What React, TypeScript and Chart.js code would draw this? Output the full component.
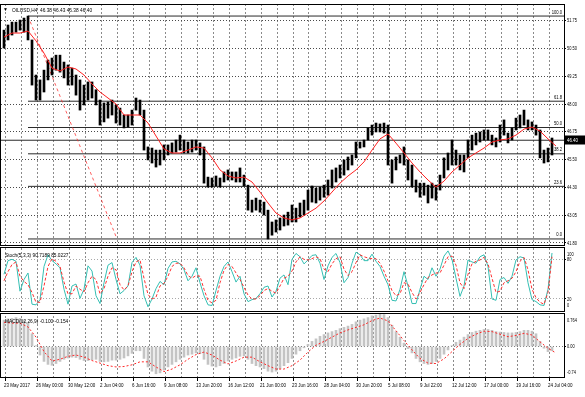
import React, { useEffect, useRef } from "react";
import { Chart, registerables } from "chart.js";

Chart.register(...registerables);

const FONT = "'Liberation Sans', Arial, sans-serif";

// ---- time axis (H4 bars; a label every 16 bars, grid every 8 bars) ----
const timeLabels = [
  "23 May 2017", "26 May 00:00", "30 May 12:00", "2 Jun 04:00", "6 Jun 16:00", "9 Jun 08:00",
  "13 Jun 20:00", "16 Jun 12:00", "21 Jun 00:00", "23 Jun 16:00", "28 Jun 04:00", "30 Jun 20:00",
  "5 Jul 08:00", "9 Jul 22:00", "12 Jul 12:00", "17 Jul 00:00", "19 Jul 16:00", "24 Jul 04:00",
];
const gridBars = Array.from({ length: 35 }, (_, k) => 1 + 8 * k);

// ---- price axis ----
const priceTickValues = [51.75, 50.506, 49.2625, 48.019, 46.775, 45.531, 44.2875, 43.044, 41.8];
const priceTickLabels = ["51.75", "50.50", "49.25", "48.00", "46.75", "45.50", "44.30", "43.05", "41.80"];

// ---- OILUSD H4 ranges (each entry = two H4 bars) ----
const highs = [
  51.33, 51.56, 51.69, 51.69, 51.78, 51.87, 51.96, 50.89, 49.32, 49.10,
  49.54, 49.99, 50.08, 50.21, 50.21, 49.90, 49.77, 49.63, 49.32, 49.10,
  48.87, 49.01, 49.01, 48.66, 48.20, 48.07, 48.11, 48.20, 47.98, 47.84,
  47.53, 47.53, 47.75, 48.29, 48.20, 47.75, 46.10, 46.05, 45.96, 45.96,
  46.19, 46.19, 46.28, 46.41, 46.63, 46.41, 46.32, 46.41, 46.41, 46.28,
  46.10, 44.75, 44.71, 44.80, 44.71, 44.98, 45.07, 44.98, 44.98, 45.16,
  44.84, 44.39, 43.72, 43.81, 43.72, 43.63, 43.27, 42.74, 42.83, 42.92,
  43.05, 43.18, 43.50, 43.36, 43.59, 43.72, 44.17, 44.35, 44.26, 44.30,
  44.39, 44.62, 45.07, 45.16, 45.29, 45.52, 45.65, 45.74, 46.32, 46.32,
  46.41, 46.95, 47.08, 47.17, 47.13, 47.17, 47.08, 45.52, 45.65, 45.74,
  46.10, 45.52, 45.29, 44.62, 44.48, 44.48, 44.39, 44.48, 44.39, 44.84,
  45.61, 45.83, 46.41, 45.96, 45.74, 45.74, 46.41, 46.63, 46.72, 46.77,
  46.86, 46.86, 46.63, 46.50, 47.08, 47.31, 46.72, 46.95, 47.39, 47.53,
  47.75, 47.31, 47.22, 47.08, 46.86, 45.96, 46.05, 46.50,
];
const lows = [
  50.53, 50.89, 51.11, 51.24, 51.33, 51.24, 50.89, 48.87, 48.20, 48.20,
  48.56, 49.10, 49.32, 49.54, 49.45, 49.19, 48.87, 48.87, 48.42, 47.75,
  47.98, 48.20, 48.29, 47.98, 47.08, 47.22, 47.39, 47.53, 47.17, 47.08,
  46.95, 46.99, 47.08, 47.75, 47.53, 45.96, 45.52, 45.38, 45.20, 45.29,
  45.52, 45.74, 45.83, 45.87, 45.96, 45.83, 45.83, 45.87, 45.96, 45.74,
  44.48, 44.30, 44.30, 44.35, 44.30, 44.53, 44.62, 44.62, 44.53, 44.53,
  44.35, 43.27, 43.18, 43.27, 43.18, 43.05, 41.98, 42.15, 42.29, 42.38,
  42.56, 42.60, 42.74, 42.74, 42.96, 43.05, 43.27, 43.63, 43.59, 43.72,
  43.85, 43.94, 44.26, 44.53, 44.71, 44.84, 45.07, 45.29, 45.61, 46.05,
  46.10, 46.41, 46.63, 46.77, 46.77, 46.72, 45.29, 44.48, 45.07, 45.38,
  45.29, 44.62, 44.30, 44.08, 43.85, 43.94, 43.59, 43.81, 43.72, 44.17,
  44.71, 45.07, 45.29, 45.29, 45.07, 44.98, 45.61, 45.96, 46.19, 46.32,
  46.41, 46.41, 46.19, 46.10, 46.32, 46.63, 46.28, 46.41, 46.86, 46.95,
  47.08, 46.86, 46.86, 46.63, 45.61, 45.38, 45.43, 45.74,
];

// moving average (one value every four bars)
const maValues = [
  51.02, 51.20, 51.20, 51.29, 50.85, 50.30, 49.63, 49.50, 49.68, 49.59,
  49.32, 48.92, 48.56, 48.29, 48.02, 47.53, 47.53, 47.53, 47.17, 46.59,
  46.01, 45.83, 45.83, 45.96, 46.10, 46.05, 45.61, 45.07, 44.80, 44.71,
  44.75, 44.53, 44.08, 43.59, 43.14, 42.92, 42.83, 42.92, 43.14, 43.36,
  43.68, 44.08, 44.48, 44.80, 45.07, 45.43, 45.96, 46.46, 46.68, 46.27,
  45.83, 45.38, 44.98, 44.62, 44.30, 44.57, 44.98, 45.29, 45.61, 45.83,
  46.05, 46.32, 46.41, 46.46, 46.63, 46.90, 46.99, 46.81, 46.46, 46.14,
];

// Stochastic(5,3,3)
const stochMain = [
  58, 79, 81, 78, 32, 50, 60, 12, 11, 19,
  70, 88, 79, 74, 68, 35, 12, 40, 43, 21,
  35, 71, 63, 25, 13, 45, 72, 76, 50, 28,
  33, 40, 76, 84, 72, 25, 8, 20, 36, 47,
  42, 67, 77, 78, 74, 65, 48, 55, 68, 45,
  25, 11, 10, 33, 55, 70, 77, 62, 46, 55,
  28, 16, 19, 21, 28, 38, 40, 23, 32, 52,
  57, 42, 81, 90, 85, 74, 80, 87, 88, 75,
  50, 71, 84, 90, 76, 45, 53, 75, 92, 88,
  79, 79, 89, 78, 70, 55, 42, 18, 17, 35,
  62, 40, 13, 13, 35, 55, 50, 68, 55, 66,
  86, 94, 81, 52, 24, 40, 80, 77, 75, 85,
  88, 70, 20, 18, 50, 53, 44, 55, 80, 85,
  83, 45, 19, 16, 11, 10, 35, 90.72,
];
const stochSignal = [
  48, 62, 73, 77, 55, 47, 42, 30, 15, 15,
  40, 70, 82, 78, 70, 46, 28, 28, 40, 35,
  31, 45, 55, 50, 28, 36, 55, 68, 65, 42,
  34, 40, 62, 77, 80, 52, 27, 20, 23, 40,
  44, 55, 70, 75, 75, 68, 56, 52, 56, 55,
  35, 18, 14, 18, 45, 64, 73, 70, 60, 50,
  38, 26, 20, 20, 25, 33, 36, 32, 29, 40,
  52, 55, 63, 77, 85, 81, 80, 82, 85, 82,
  66, 62, 74, 82, 85, 66, 56, 62, 76, 88,
  85, 83, 82, 82, 75, 63, 48, 33, 25, 28,
  45, 43, 30, 20, 30, 42, 53, 57, 60, 60,
  72, 85, 86, 72, 45, 36, 58, 74, 78, 80,
  84, 74, 52, 30, 32, 45, 48, 52, 62, 78,
  84, 65, 35, 22, 15, 12, 30, 85.02,
];

// MACD(12,26,9)
const macdHist = [
  0.62, 0.65, 0.66, 0.68, 0.66, 0.62, 0.55, 0.30, 0.02, -0.20,
  -0.35, -0.42, -0.44, -0.40, -0.35, -0.30, -0.27, -0.25, -0.26, -0.30,
  -0.33, -0.33, -0.31, -0.30, -0.35, -0.36, -0.35, -0.32, -0.32, -0.30,
  -0.27, -0.22, -0.16, -0.10, -0.10, -0.28, -0.48, -0.58, -0.64, -0.62,
  -0.55, -0.48, -0.42, -0.36, -0.30, -0.25, -0.20, -0.18, -0.15, -0.17,
  -0.30, -0.42, -0.46, -0.48, -0.45, -0.40, -0.34, -0.30, -0.27, -0.23,
  -0.22, -0.30, -0.40, -0.45, -0.48, -0.52, -0.58, -0.60, -0.58, -0.52,
  -0.45, -0.38, -0.28, -0.18, -0.10, -0.03, 0.05, 0.12, 0.18, 0.24,
  0.28, 0.32, 0.35, 0.38, 0.42, 0.45, 0.48, 0.52, 0.58, 0.62,
  0.65, 0.68, 0.72, 0.74, 0.76, 0.75, 0.68, 0.50, 0.35, 0.22,
  0.08, -0.05, -0.15, -0.28, -0.36, -0.40, -0.42, -0.40, -0.35, -0.28,
  -0.18, -0.08, 0.02, 0.10, 0.15, 0.22, 0.28, 0.33, 0.36, 0.38,
  0.40, 0.40, 0.38, 0.35, 0.34, 0.33, 0.32, 0.32, 0.33, 0.35,
  0.38, 0.38, 0.36, 0.30, 0.12, -0.04, -0.12, -0.10,
];
const macdSignal = [
  0.57, 0.55, 0.55, 0.46, 0.22, -0.12, -0.34, -0.30, -0.23, -0.20,
  -0.25, -0.33, -0.39, -0.45, -0.48, -0.47, -0.43, -0.36, -0.36, -0.48,
  -0.59, -0.53, -0.43, -0.30, -0.19, -0.13, -0.20, -0.32, -0.41, -0.34,
  -0.25, -0.25, -0.36, -0.45, -0.53, -0.53, -0.45, -0.32, -0.13, 0.03,
  0.12, 0.22, 0.32, 0.39, 0.45, 0.51, 0.61, 0.67, 0.60, 0.37,
  0.14, -0.08, -0.28, -0.39, -0.40, -0.29, -0.12, 0.05, 0.19, 0.29,
  0.36, 0.35, 0.29, 0.23, 0.26, 0.31, 0.27, 0.11, -0.04, -0.154,
];

// Fibonacci retracement and bid
const fibHigh = 51.96;
const fibLow = 41.98;
const fibStartBar = 12.5;
const fibEndBar = 57;
const fibLevels = [0, 23.6, 38.2, 50, 61.8, 100];
const fibLabels = ["0.0", "23.6", "38.2", "50.0", "61.8", "100.0"];
const bidPrice = 46.4;
const bidLabel = "46.40";
const headerText = "OILUSD,H4  46.38 46.43 46.38 46.40";
const stochTitle = "Stoch(5,3,3) 90.7189 85.0227";
const macdTitle = "MACD(12,26,9) -0.100 -0.154";
const stochAxisValues = [100, 80, 20, 0];
const macdAxisValues = [0.764, 0, -0.74];
const macdAxisLabels = ["0.764", "0.00", "-0.74"];

const X_MIN = -1;
const X_MAX = 280.5;

const groupX = (g: number) => 2 * g + 0.5;
const sampleX = (k: number) => 4 * k + 0.5;

function txt(ctx: any, s: string, x: number, y: number, size: number, sx: number, align: string, color = "#000") {
  ctx.save();
  ctx.translate(x, y);
  ctx.scale(sx, 1);
  ctx.font = `${size}px ${FONT}`;
  ctx.textAlign = align;
  ctx.textBaseline = "middle";
  ctx.fillStyle = color;
  ctx.fillText(s, 0, 0);
  ctx.restore();
}

const overlayPlugin = {
  id: "mtOverlay",
  afterDraw(chart: any) {
    const { ctx, chartArea } = chart;
    const xs = chart.scales.x;
    const ym = chart.scales.yMain;
    const ys = chart.scales.yStoch;
    const yd = chart.scales.yMacd;
    const R = chartArea.right;
    ctx.save();
    ctx.setLineDash([]);
    ctx.fillStyle = "#fff";
    ctx.fillRect(0, ym.bottom, R + 1, 1);
    ctx.fillRect(0, ys.bottom, R + 1, 1);
    ctx.strokeStyle = "#000";
    ctx.lineWidth = 1;
    const panels = [
      [ym.top, ym.bottom - 1],
      [ys.top + 1, ys.bottom - 1],
      [yd.top + 1, yd.bottom - 1],
    ];
    for (const [t, b] of panels) ctx.strokeRect(0.5, t + 0.5, R, b - t);
    ctx.restore();

    // titles
    txt(ctx, "\u25BC", 3, ym.top + 6, 5, 1, "left");
    txt(ctx, headerText, 12, ym.top + 6, 6, 0.8, "left");
    txt(ctx, stochTitle, 5, ys.top + 9, 6, 0.8, "left");
    txt(ctx, macdTitle, 5, yd.top + 9, 6, 0.8, "left");

    // fib labels
    fibLevels.forEach((lv, i) => {
      const p = fibLow + (lv / 100) * (fibHigh - fibLow);
      const y = ym.getPixelForValue(p);
      txt(ctx, fibLabels[i], R - 2, y - 4, 5.5, 0.75, "right");
    });

    // price axis labels
    priceTickValues.forEach((v, i) => {
      txt(ctx, priceTickLabels[i], R + 3, ym.getPixelForValue(v), 5.5, 0.72, "left");
    });

    // stoch & macd axis labels (kept inside their panes)
    const clamp = (v: number, a: number, b: number) => Math.max(a, Math.min(b, v));
    stochAxisValues.forEach((v) => {
      const y = clamp(ys.getPixelForValue(v), ys.top + 8, ys.bottom - 7);
      txt(ctx, String(v), R + 3, y, 5.5, 0.72, "left");
    });
    macdAxisValues.forEach((v, i) => {
      const y = clamp(yd.getPixelForValue(v), yd.top + 8, yd.bottom - 6);
      txt(ctx, macdAxisLabels[i], R + 3, y, 5.5, 0.72, "left");
    });

    // time labels
    gridBars.forEach((b, i) => {
      if (i % 2 !== 0) return;
      txt(ctx, timeLabels[i / 2], xs.getPixelForValue(b) - 1, chartArea.bottom + 7, 6, 0.75, "left");
    });

    // bid price box
    const by = ym.getPixelForValue(bidPrice);
    ctx.save();
    ctx.fillStyle = "#000";
    ctx.fillRect(R + 1, Math.round(by) - 4.5, 20, 9);
    ctx.restore();
    txt(ctx, bidLabel, R + 3, by, 5.5, 0.8, "left", "#fff");
  },
};

export default function App() {
  const ref = useRef<HTMLCanvasElement>(null);

  useEffect(() => {
    const candleData = highs.map((h, g) => ({ x: groupX(g), y: [lows[g], h] }));
    const maData = maValues.map((v, k) => ({ x: sampleX(k), y: v }));
    const stochMainData = stochMain.map((v, g) => ({ x: groupX(g), y: v }));
    const stochSigData = stochSignal.map((v, g) => ({ x: groupX(g), y: v }));
    const histData = macdHist.map((v, g) => ({ x: groupX(g), y: v }));
    const macdSigData = macdSignal.map((v, k) => ({ x: sampleX(k), y: v }));

    const lineBase = { type: "line", pointRadius: 0, borderWidth: 1, tension: 0, fill: false };

    const fibSets = fibLevels.map((lv) => {
      const p = fibLow + (lv / 100) * (fibHigh - fibLow);
      return {
        ...lineBase,
        data: [{ x: fibStartBar, y: p }, { x: X_MAX, y: p }],
        yAxisID: "yMain",
        borderColor: "#2a2a2a",
        order: 3,
      };
    });

    const chart = new Chart(ref.current as HTMLCanvasElement, {
      type: "bar",
      data: {
        datasets: [
          { ...lineBase, data: maData, yAxisID: "yMain", borderColor: "#ff2020", order: 0 },
          {
            type: "bar",
            data: candleData,
            yAxisID: "yMain",
            backgroundColor: "#000",
            barThickness: 2,
            grouped: false,
            order: 1,
          },
          ...fibSets,
          {
            ...lineBase,
            data: [{ x: fibStartBar, y: fibHigh }, { x: fibEndBar, y: fibLow }],
            yAxisID: "yMain",
            borderColor: "rgba(255,40,40,0.75)",
            borderDash: [3, 3],
            order: 2,
          },
          {
            ...lineBase,
            data: [{ x: X_MIN, y: bidPrice }, { x: X_MAX, y: bidPrice }],
            yAxisID: "yMain",
            borderColor: "#2a2a2a",
            order: 3,
          },
          { ...lineBase, data: stochMainData, yAxisID: "yStoch", borderColor: "#35bfb3", order: 1 },
          {
            ...lineBase,
            data: stochSigData,
            yAxisID: "yStoch",
            borderColor: "#ff3030",
            borderDash: [3, 2],
            order: 0,
          },
          {
            type: "bar",
            data: histData,
            yAxisID: "yMacd",
            backgroundColor: "#c4c4c4",
            barThickness: 2,
            grouped: false,
            order: 2,
          },
          {
            ...lineBase,
            data: macdSigData,
            yAxisID: "yMacd",
            borderColor: "#ff2a2a",
            borderDash: [2, 2],
            order: 0,
          },
        ] as any,
      },
      options: {
        animation: false,
        responsive: false,
        devicePixelRatio: 1,
        events: [],
        layout: { padding: { top: 4, left: 1, right: 0, bottom: 0 } },
        plugins: { legend: { display: false }, tooltip: { enabled: false } },
        scales: {
          x: {
            type: "linear",
            min: X_MIN,
            max: X_MAX,
            offset: false,
            afterFit: (s: any) => {
              s.height = 19;
            },
            afterBuildTicks: (s: any) => {
              s.ticks = gridBars.map((v) => ({ value: v }));
            },
            ticks: { display: false, autoSkip: false, maxRotation: 0 },
            grid: {
              offset: false,
              color: "#8a8a8a",
              lineWidth: 1,
              tickLength: 3,
              tickColor: (c: any) => (c.index % 2 === 0 ? "#000" : "rgba(0,0,0,0)"),
            },
            border: { display: false, dash: [2, 2] },
          },
          yMain: {
            type: "linear",
            position: "right",
            stack: "panes",
            stackWeight: 242,
            min: 41.665,
            max: 52.5,
            afterFit: (s: any) => {
              s.width = 21;
            },
            afterBuildTicks: (s: any) => {
              s.ticks = priceTickValues.map((v) => ({ value: v }));
            },
            ticks: { display: false, autoSkip: false },
            grid: { color: "#4a4a4a", lineWidth: 1, tickLength: 2, tickColor: "#000" },
            border: { display: false, dash: [1, 2] },
          },
          yStoch: {
            type: "linear",
            position: "right",
            stack: "panes",
            stackWeight: 66,
            min: 0,
            max: 101.5,
            afterFit: (s: any) => {
              s.width = 21;
            },
            afterBuildTicks: (s: any) => {
              s.ticks = [{ value: 80 }, { value: 20 }];
            },
            ticks: { display: false },
            grid: { color: "#a8a8a8", lineWidth: 1, tickLength: 2, tickColor: "#000" },
            border: { display: false, dash: [1, 2] },
          },
          yMacd: {
            type: "linear",
            position: "right",
            stack: "panes",
            stackWeight: 66,
            min: -0.74,
            max: 0.811,
            afterFit: (s: any) => {
              s.width = 21;
            },
            afterBuildTicks: (s: any) => {
              s.ticks = [{ value: 0 }];
            },
            ticks: { display: false },
            grid: { color: "#7a7a7a", lineWidth: 1, tickLength: 2, tickColor: "#000" },
            border: { display: false, dash: [1, 2] },
          },
        },
      } as any,
      plugins: [overlayPlugin],
    });
    return () => chart.destroy();
  }, []);

  return (
    <div
      style={{
        position: "fixed",
        left: 0,
        top: 0,
        width: 585,
        height: 397,
        background: "#fff",
      }}
    >
      <canvas ref={ref} width={585} height={397} style={{ display: "block", width: 585, height: 397 }} />
    </div>
  );
}
